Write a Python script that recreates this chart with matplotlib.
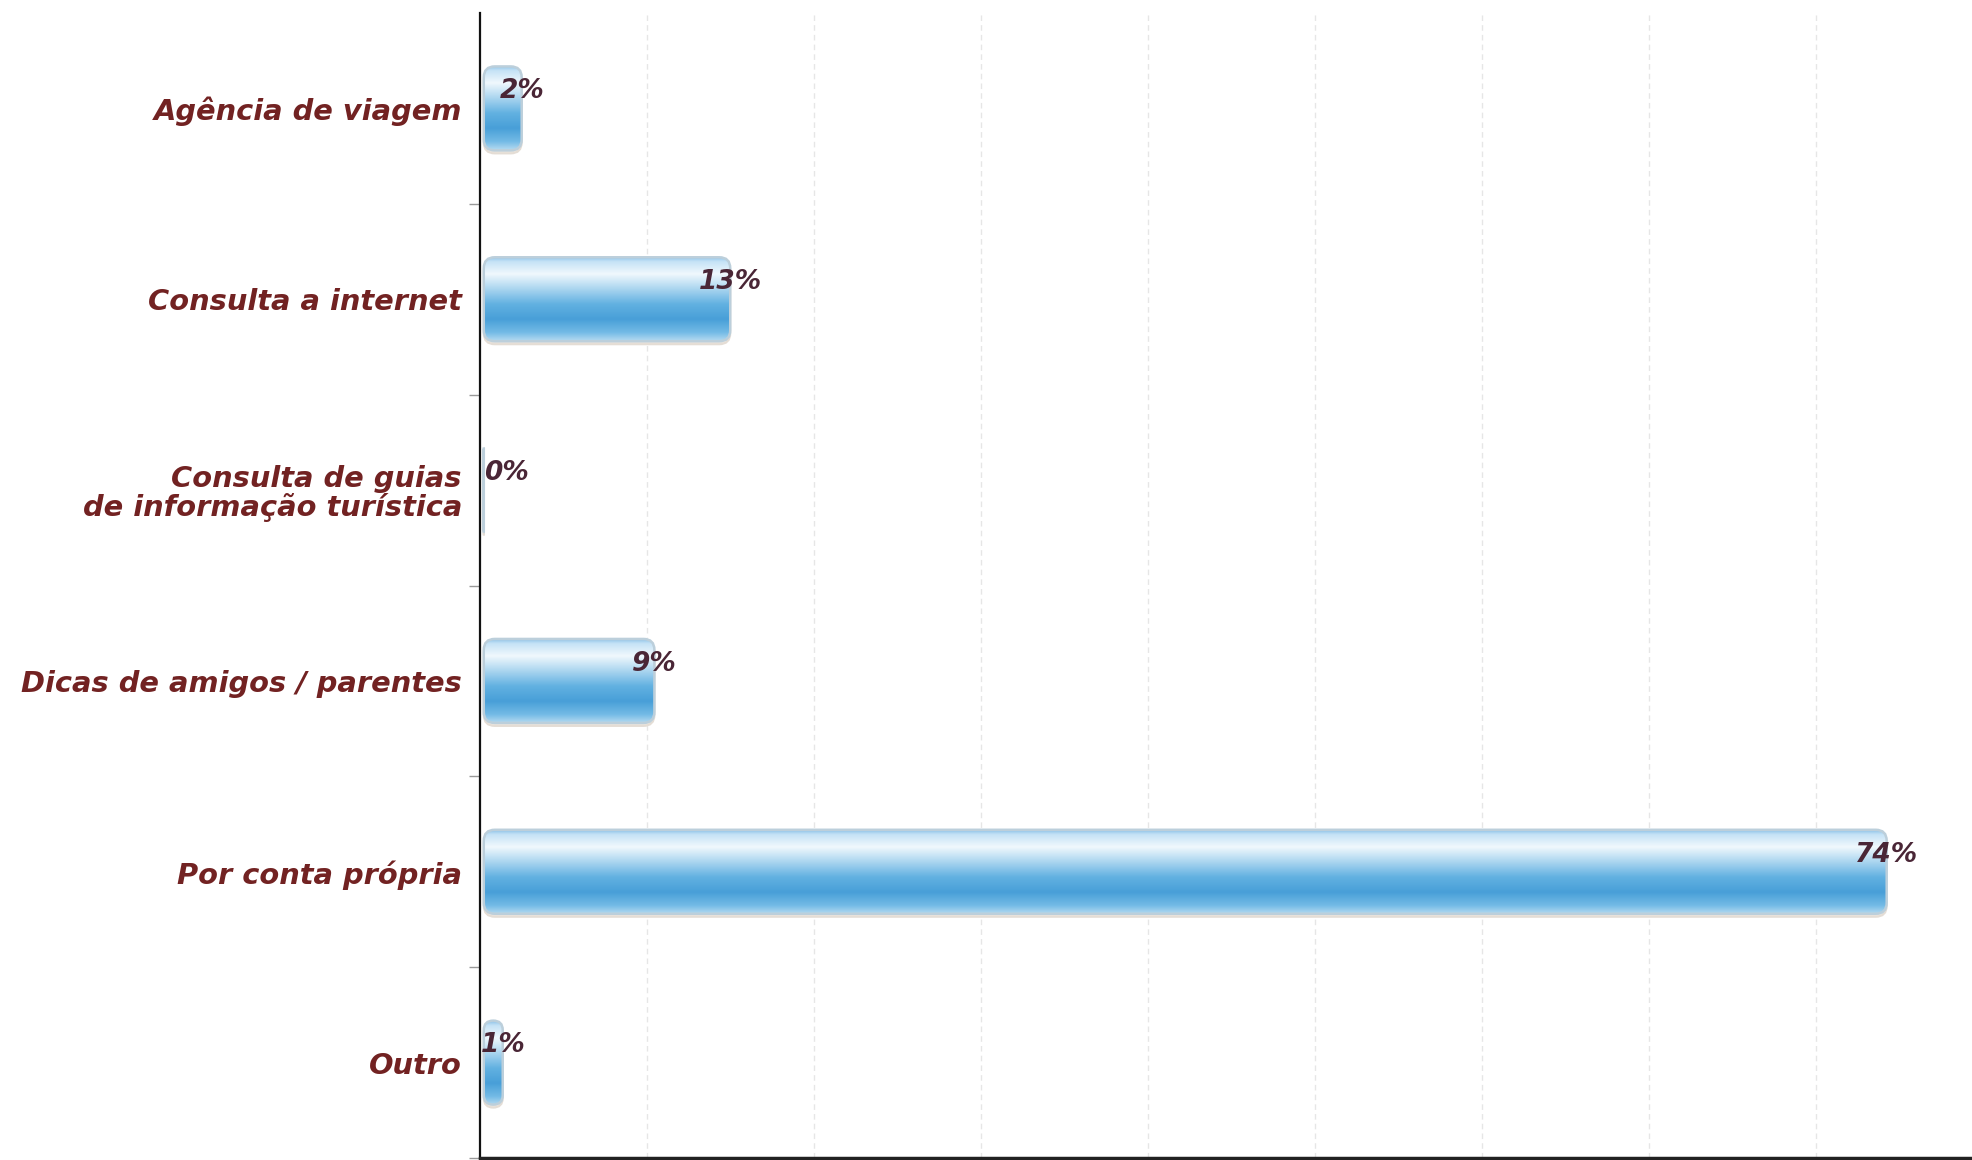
import matplotlib
matplotlib.use("Agg")
import matplotlib.pyplot as plt
import numpy as np
from matplotlib.patches import FancyBboxPatch
from matplotlib.colors import LinearSegmentedColormap

categories = ["Agência de viagem", "Consulta a internet",
              "Consulta de guias\nde informação turística",
              "Dicas de amigos / parentes", "Por conta própria", "Outro"]
values = [2, 13, 0, 9, 74, 1]
value_labels = ["2%", "13%", "0%", "9%", "74%", "1%"]

W, H, DPI = 19.72, 11.60, 100
fig = plt.figure(figsize=(W, H), dpi=DPI)
fig.patch.set_facecolor("white")
ax = fig.add_axes([0.2434, 0.0017, 0.7566, 0.9871])

XMIN, XMAX = -0.2, 78.5
GRID_STEP = 8.81

# grid
for gx in np.arange(XMIN + GRID_STEP, XMAX, GRID_STEP):
    ax.axvline(gx, color="#e6e6e6", lw=1.0, ls=(0, (4, 3)), zorder=0)

# pixel scales
ax_w_px = 0.7566 * W * DPI
ax_h_px = 0.9871 * H * DPI
xpx = ax_w_px / (XMAX - XMIN)
ypx = ax_h_px / len(categories)
ma = xpx / ypx

stops = [(0.00, "#8fc3e8"), (0.05, "#c4e2f6"), (0.20, "#f0f8fd"),
         (0.36, "#b2d9f1"), (0.56, "#62b1e1"), (0.74, "#489fd8"),
         (0.90, "#74bbe6"), (1.00, "#b5daf0")]
cmap = LinearSegmentedColormap.from_list("gloss", stops)
grad = np.linspace(0, 1, 256).reshape(-1, 1)

bh = 0.44
for i, (v, lab) in enumerate(zip(values, value_labels)):
    r = min(11.0 / xpx, v / 2.0)
    rs = max(r, 1e-6)
    y0 = i - bh / 2
    # shadow
    sh = FancyBboxPatch((0, y0 + 3 / ypx), v, bh,
                        boxstyle=f"round,pad=0,rounding_size={rs}",
                        mutation_aspect=ma, facecolor="#ece6df",
                        edgecolor="#e4ddd5", lw=1.5, zorder=2)
    ax.add_patch(sh)
    patch = FancyBboxPatch((0, y0), v, bh,
                           boxstyle=f"round,pad=0,rounding_size={rs}",
                           mutation_aspect=ma, facecolor="none",
                           edgecolor="#bccfdb", lw=1.8, zorder=4)
    ax.add_patch(patch)
    if v > 0:
        im = ax.imshow(grad, cmap=cmap, aspect="auto", origin="upper",
                       extent=(0, v, i + bh / 2, i - bh / 2), zorder=3,
                       interpolation="bilinear")
        im.set_clip_path(patch)
    ha = "center" if v >= 1 else "left"
    ax.text(v, i - 0.09, lab, ha=ha, va="center", fontsize=19,
            fontweight="bold", fontstyle="italic", color="#4a2636",
            family="DejaVu Sans", zorder=6)

ax.set_xlim(XMIN, XMAX)
ax.set_ylim(len(categories) - 0.5, -0.5)

ax.set_yticks(range(len(categories)))
ax.set_yticklabels(categories, fontsize=20.8, fontweight="bold",
                   fontstyle="italic", color="#722222", family="DejaVu Sans",
                   linespacing=1.0)
ax.tick_params(axis="y", which="major", length=0, pad=13)
ax.set_yticks(np.arange(0.5, len(categories), 1.0), minor=True)
ax.tick_params(axis="y", which="minor", length=8, width=1, color="#999999")
ax.set_xticks([])

for s in ["top", "right"]:
    ax.spines[s].set_visible(False)
ax.spines["left"].set_color("#111111")
ax.spines["left"].set_linewidth(1.6)
ax.spines["bottom"].set_color("#222222")
ax.spines["bottom"].set_linewidth(2.5)
ax.set_facecolor("white")

fig.savefig("out.png", dpi=DPI)
